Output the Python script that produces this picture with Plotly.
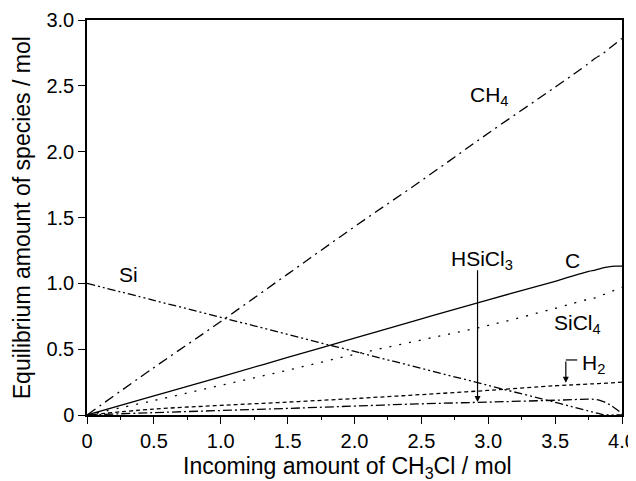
import plotly.graph_objects as go

# Incoming amount of CH3Cl / mol
x_vals = [0, 0.5, 1.0, 1.5, 2.0, 2.5, 3.0, 3.5, 3.75, 3.8, 3.85, 3.9, 3.95, 4.0]

ch4 = [0, 0.36, 0.71, 1.07, 1.43, 1.78, 2.14, 2.49, 2.67, 2.71, 2.74, 2.78, 2.82, 2.86]
si = [1.0, 0.871, 0.742, 0.612, 0.483, 0.354, 0.225, 0.096, 0.031, 0.018, 0.005, 0, 0, 0]
c = [0, 0.145, 0.29, 0.437, 0.583, 0.73, 0.875, 1.015, 1.09, 1.10, 1.115, 1.125, 1.13, 1.13]
sicl4 = [0, 0.11, 0.225, 0.34, 0.46, 0.57, 0.68, 0.81, 0.88, 0.89, 0.91, 0.93, 0.95, 0.97]
h2 = [0, 0.045, 0.073, 0.098, 0.125, 0.155, 0.187, 0.222, 0.235, 0.238, 0.240, 0.243, 0.246, 0.249]
hsicl3 = [0, 0.018, 0.034, 0.05, 0.068, 0.085, 0.098, 0.112, 0.12, 0.118, 0.105, 0.083, 0.05, 0.01]

x_ticks = [0, 0.5, 1.0, 1.5, 2.0, 2.5, 3.0, 3.5, 4.0]
x_ticktext = ["0", "0.5", "1.0", "1.5", "2.0", "2.5", "3.0", "3.5", "4.0"]
y_ticks = [0, 0.5, 1.0, 1.5, 2.0, 2.5, 3.0]
y_ticktext = ["0", "0.5", "1.0", "1.5", "2.0", "2.5", "3.0"]

x_title = "Incoming amount of CH<sub>3</sub>Cl / mol"
y_title = "Equilibrium amount of species / mol"

FONT = "Liberation Sans, Arial, Helvetica, sans-serif"

series = [
    ("CH4", ch4, "10px,5px,2px,5px"),
    ("Si", si, "8px,3px,2px,3px,2px,3px"),
    ("C", c, "solid"),
    ("SiCl4", sicl4, "2px,8px"),
    ("H2", h2, "4px,3px"),
    ("HSiCl3", hsicl3, "9px,3px,2px,3px"),
]

fig = go.Figure()
for name, ys, dash in series:
    fig.add_trace(go.Scatter(x=x_vals, y=ys, mode="lines", name=name,
                             line=dict(color="black", width=1.3, dash=dash),
                             line_shape="spline", showlegend=False))

labels = [
    ("CH<sub>4</sub>", 3.01, 2.42),
    ("Si", 0.31, 1.07),
    ("HSiCl<sub>3</sub>", 2.95, 1.18),
    ("C", 3.63, 1.17),
    ("SiCl<sub>4</sub>", 3.67, 0.69),
    ("H<sub>2</sub>", 3.79, 0.385),
]
for txt, lx, ly in labels:
    fig.add_annotation(x=lx, y=ly, text=txt, showarrow=False,
                       font=dict(family=FONT, size=21, color="black"))

# HSiCl3 arrow
fig.add_annotation(x=2.92, y=0.098, ax=2.92, ay=1.11, xref="x", yref="y",
                   axref="x", ayref="y", text="", showarrow=True,
                   arrowhead=2, arrowsize=1, arrowwidth=1.2, arrowcolor="black")
# H2 bracket arrow
fig.add_shape(type="line", x0=3.58, x1=3.665, y0=0.418, y1=0.418,
              line=dict(color="black", width=1.2))
fig.add_annotation(x=3.58, y=0.245, ax=3.58, ay=0.418, xref="x", yref="y",
                   axref="x", ayref="y", text="", showarrow=True,
                   arrowhead=2, arrowsize=1, arrowwidth=1.2, arrowcolor="black")

# axis titles
fig.add_annotation(x=0.487, y=-0.09, xref="paper", yref="paper", text=x_title,
                   showarrow=False, xanchor="center", yanchor="top",
                   font=dict(family=FONT, size=23, color="black"))
fig.add_annotation(x=-0.122, y=0.5, xref="paper", yref="paper", text=y_title,
                   showarrow=False, xanchor="center", yanchor="middle", textangle=-90,
                   font=dict(family=FONT, size=23, color="black"))

# page body has an 8px margin, so the figure is sized/offset to land the
# plot area at the reference position
fig.update_layout(
    width=628, height=473,
    margin=dict(l=79, r=14, t=12, b=66),
    paper_bgcolor="white", plot_bgcolor="white",
    font=dict(family=FONT, size=20, color="black"),
    xaxis=dict(range=[0, 4.0], tickvals=x_ticks, ticktext=x_ticktext,
               ticks="outside", ticklen=7, tickwidth=1.2, tickcolor="black",
               minor=dict(ticks="outside", ticklen=3, tickwidth=1, tickcolor="black", dtick=0.25),
               showline=True, linecolor="black", linewidth=1.5, mirror=True,
               showgrid=False, zeroline=False, automargin=False),
    yaxis=dict(range=[0, 3.0], tickvals=y_ticks, ticktext=y_ticktext,
               ticks="outside", ticklen=7, tickwidth=1.2, tickcolor="black",
               showline=True, linecolor="black", linewidth=1.5, mirror=True,
               showgrid=False, zeroline=False, automargin=False),
)

fig.write_html("out.html")
